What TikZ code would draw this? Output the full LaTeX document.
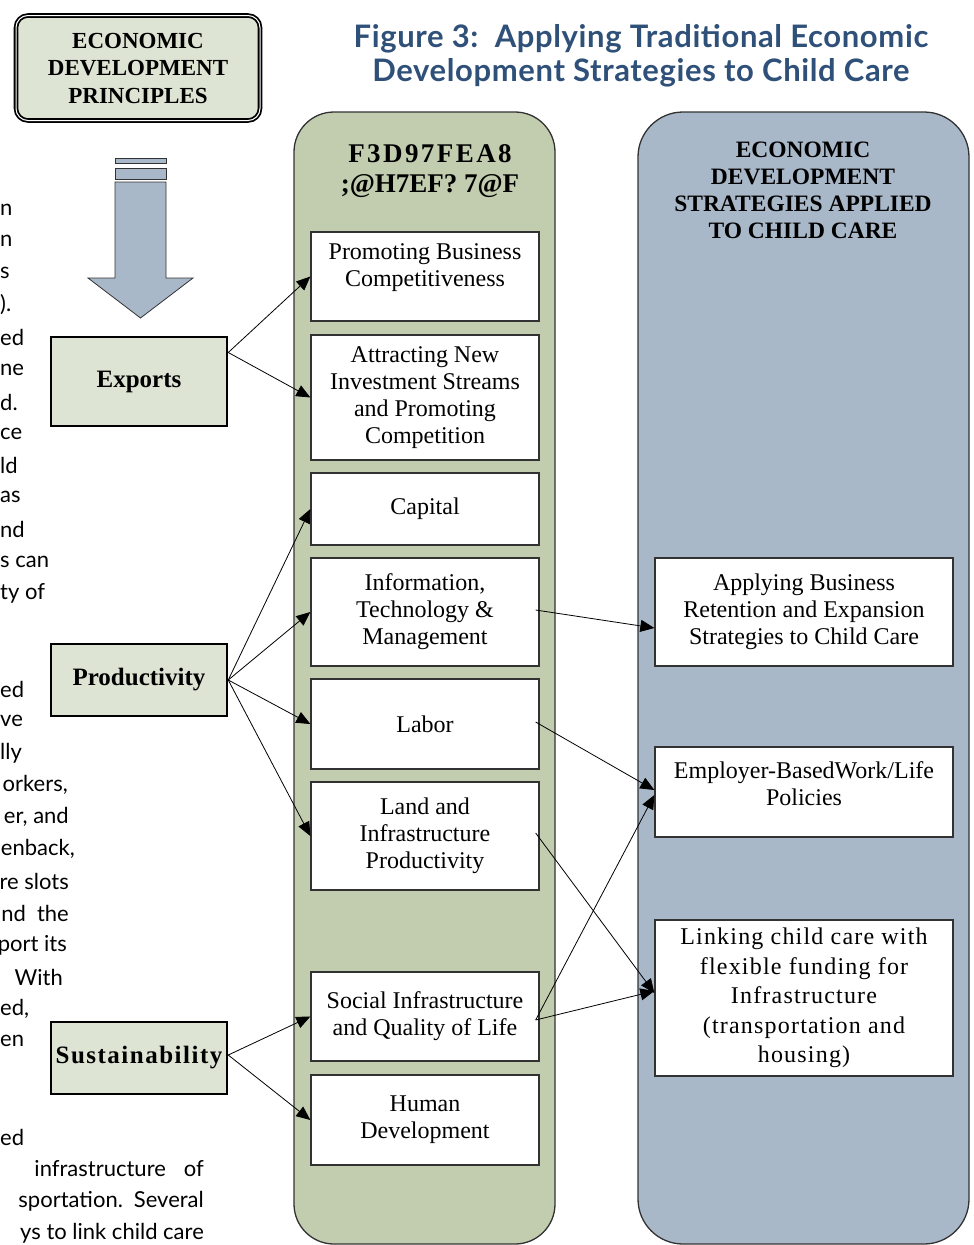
\documentclass[tikz,border=0pt]{standalone}
\usepackage{fontspec}
\setmainfont{Liberation Serif}
\newfontfamily\gillfont{Lato}
\usepackage{tikz}
\usetikzlibrary{arrows.meta}

\definecolor{sagegreen}{RGB}{194,205,176}
\definecolor{slateblue}{RGB}{169,184,201}
\definecolor{palegreen}{RGB}{222,228,212}
\definecolor{titleblue}{RGB}{47,80,120}
\definecolor{rimgray}{RGB}{50,50,50}

\tikzset{
  gbox/.style={draw=rimgray, line width=1.3pt, fill=white, minimum width=228pt, align=center,
    inner sep=0pt, font=\fontsize{24}{27}\selectfont},
  bbox/.style={gbox, minimum width=298pt},
  principle/.style={draw=black, line width=2.5pt, fill=palegreen, minimum width=176pt,
    font=\bfseries\fontsize{25}{28}\selectfont},
  link/.style={-{Triangle[length=14pt,width=12pt]}, line width=0.8pt},
  prose/.style={anchor=east, inner sep=0pt, font=\gillfont\fontsize{22}{24}\selectfont},
  cutprose/.style={prose, anchor=west}
}

\begin{document}
\begin{tikzpicture}[x=1pt,y=-1pt]
   \path[use as bounding box] (0,0) rectangle (974,1245);

   \draw[fill=sagegreen, draw=rimgray, line width=1.3pt, rounded corners=40pt] (294,112) rectangle (555,1244);
   \draw[fill=slateblue, draw=rimgray, line width=1.3pt, rounded corners=45pt] (638,112) rectangle (969,1244);

   \draw (138,68) node[draw=black, line width=1.8pt, double, double distance=1pt, rounded corners=12pt,
      fill=palegreen, minimum width=244pt, minimum height=105pt, align=center,
      font=\bfseries\fontsize{23}{27.5}\selectfont] (principles) {ECONOMIC\\DEVELOPMENT\\PRINCIPLES};
   \draw (641,56) node[align=center, text=titleblue,
      font=\gillfont\bfseries\fontsize{31}{34}\selectfont\addfontfeatures{LetterSpace=2}] (title)
      {Figure 3:\ \ Applying Traditional Economic\\Development Strategies to Child Care};

   \draw[fill=slateblue, draw=rimgray, line width=0.8pt] (115,158) rectangle (166,163);
   \draw[fill=slateblue, draw=rimgray, line width=0.8pt] (115,168) rectangle (166,179);
   \draw[fill=slateblue, draw=rimgray, line width=0.8pt]
      (115,182) -- (166,182) -- (166,278) -- (193,278) -- (140.5,318) -- (88,278) -- (115,278) -- cycle;

   \draw (139,381.5) node[principle, minimum height=89pt] (exports) {Exports};
   \draw (139,680) node[principle, minimum height=72pt] (productivity) {Productivity};
   \draw (139,1058) node[principle, minimum height=72pt,
      font=\bfseries\fontsize{25}{28}\selectfont\addfontfeatures{LetterSpace=6}] (sustainability) {Sustainability};

   \draw (430,171) node[align=center, font=\bfseries\fontsize{27}{30}\selectfont] (garbled)
      {\addfontfeatures{LetterSpace=9}F3D97FEA8\\;@H7EF? 7@F};
   \draw (803,190.5) node[align=center, font=\bfseries\fontsize{23.5}{27}\selectfont] (strategies)
      {ECONOMIC\\DEVELOPMENT\\STRATEGIES APPLIED\\TO CHILD CARE};

   \draw (425,276.5) node[gbox, minimum height=89pt] (promo) {Promoting Business\\Competitiveness\\[-12pt]\strut};
   \draw (425,397.5) node[gbox, minimum height=125pt] (attract) {Attracting New\\Investment Streams\\and Promoting\\Competition};
   \draw (425,509) node[gbox, minimum height=72pt] (capital) {Capital};
   \draw (425,612) node[gbox, minimum height=108pt] (infotech) {Information,\\Technology \&\\Management};
   \draw (425,724) node[gbox, minimum height=90pt] (labor) {Labor};
   \draw (425,836) node[gbox, minimum height=108pt] (land) {Land and\\Infrastructure\\Productivity};
   \draw (425,1016.5) node[gbox, minimum height=89pt] (social) {Social Infrastructure\\and Quality of Life};
   \draw (425,1120) node[gbox, minimum height=90pt] (human) {Human\\Development};

   \draw (804,612) node[bbox, minimum height=108pt] (retention) {Applying Business\\Retention and Expansion\\Strategies to Child Care};
   \draw (804,792) node[bbox, minimum height=90pt] (worklife) {Employer-BasedWork/Life\\Policies\\[-18pt]\strut};
   \draw (804,998) node[bbox, minimum height=156pt, font=\fontsize{24}{29.5}\selectfont\addfontfeatures{LetterSpace=5}] (linking)
      {Linking child care with\\flexible funding for\\Infrastructure\\(transportation and\\housing)};

   \path[link] ([yshift=29pt]exports.east) edge (promo.west) edge (attract.west);
   \path[link] (productivity.east) edge (capital.west) edge (infotech.west) edge (labor.west) edge (land.west);
   \path[link] ([yshift=3pt]sustainability.east) edge (social.west) edge (human.west);
   \path[link] ([xshift=-4pt,yshift=2pt]infotech.east) edge ([yshift=-16pt]retention.west);
   \path[link] ([xshift=-4pt,yshift=2pt]labor.east) edge ([yshift=2pt]worklife.west);
   \path[link] ([xshift=-4pt,yshift=3pt]land.east) edge ([yshift=5pt]linking.west);
   \path[link] ([xshift=-4pt,yshift=-3.5pt]social.east) edge ([yshift=-3pt]worklife.west) edge ([yshift=7pt]linking.west);

   \draw (0,210) node[cutprose] (p1) {n};
   \draw (0,241) node[cutprose] (p2) {n};
   \draw (0,273) node[cutprose] (p3) {s};
   \draw (0,305) node[cutprose] (p4) {).};
   \draw (0,337) node[cutprose] (p5) {ed};
   \draw (0,370) node[cutprose] (p6) {ne};
   \draw (0,402) node[cutprose] (p7) {d.};
   \draw (0,434) node[cutprose] (p8) {ce};
   \draw (0,465) node[cutprose] (p9) {ld};
   \draw (0,497) node[cutprose] (p10) {as};
   \draw (0,529) node[cutprose] (p11) {nd};
   \draw (0,562) node[cutprose] (p12) {s can};
   \draw (0,593) node[cutprose] (p13) {ty of};
   \draw (0,689) node[cutprose] (p14) {ed};
   \draw (0,721) node[cutprose] (p15) {ve};
   \draw (0,753) node[cutprose] (p16) {lly};
   \draw (68,785) node[prose] (p17) {orkers,};
   \draw (69,817) node[prose] (p18) {er, and};
   \draw (75,849) node[prose] (p19) {enback,};
   \draw (69,881) node[prose] (p20) {re slots};
   \draw (69,913) node[prose] (p21) {nd\enspace the};
   \draw (67,945) node[prose] (p22) {port its};
   \draw (63,977) node[prose] (p23) {With};
   \draw (0,1009) node[cutprose] (p24) {ed,};
   \draw (0,1041) node[cutprose] (p25) {en};
   \draw (0,1137) node[cutprose] (p26) {ed};
   \draw (204,1169) node[prose] (p27) {infrastructure\hspace{18pt}of};
   \draw (204,1201) node[prose] (p28) {sportation.\enspace Several};
   \draw (204,1233) node[prose] (p29) {ys to link child care};

\end{tikzpicture}
\end{document}
